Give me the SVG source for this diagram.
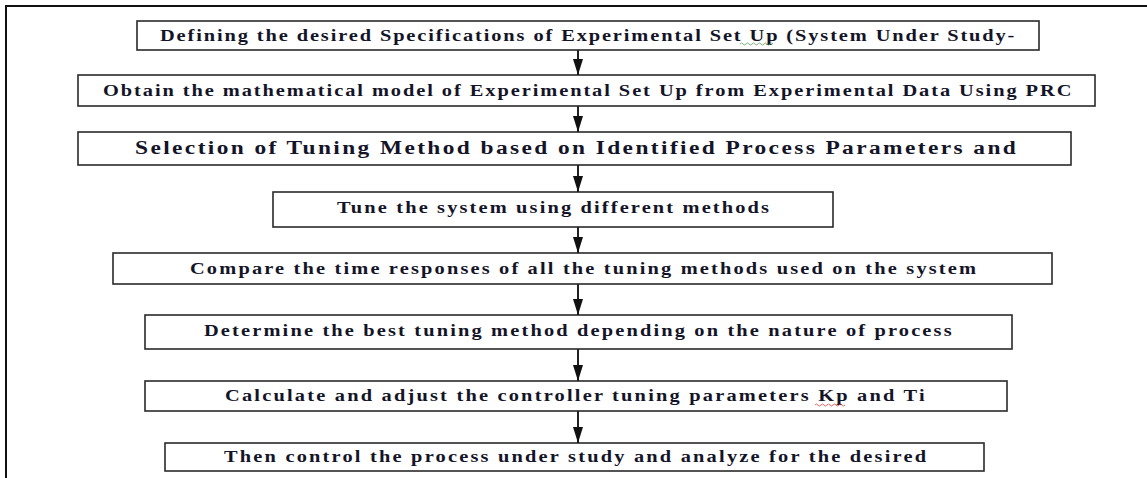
<svg xmlns="http://www.w3.org/2000/svg" width="1147" height="478" viewBox="0 0 1147 478">
<defs>
<style>
.box{fill:#fff;stroke:#2a2a2a;stroke-width:1.6}
.t{font-family:"Liberation Serif","Times New Roman",serif;font-weight:bold;font-size:17px;fill:#141428}
.big{font-size:19.5px}
.shaft{stroke:#222;stroke-width:2;fill:none}
.frame{stroke:#111;stroke-width:2;fill:none}
</style>
<marker id="ah" markerWidth="16" markerHeight="10" refX="16" refY="5" orient="auto" markerUnits="userSpaceOnUse">
<path d="M0,0 L16,5 L0,10 Z" fill="#111"/>
</marker>
</defs>
<rect width="1147" height="478" fill="#fff"/>
<path class="frame" d="M6,478 V6 H1147"/>

<g id="n1"><rect class="box" x="137" y="21" width="902" height="29"/>
<text class="t" transform="translate(160 41) scale(1.2 1)" textLength="712" lengthAdjust="spacing">Defining the desired Specifications of Experimental Set Up (System Under Study-</text>
<path d="M740,44 q1.5,-2 3,0 t3,0 t3,0 t3,0 t3,0 t3,0 t3,0 t3,0 t3,0 t3,0 t3,0" stroke="#5a9a5a" stroke-width="0.8" fill="none"/></g>

<g id="n2"><rect class="box" x="78" y="75" width="1017" height="31"/>
<text class="t" transform="translate(103 96) scale(1.2 1)" textLength="807" lengthAdjust="spacing">Obtain the mathematical model of Experimental Set Up from Experimental Data Using PRC</text></g>

<g id="n3"><rect class="box" x="78" y="132" width="993" height="33"/>
<text class="t big" transform="translate(135 154) scale(1.2 1)" textLength="734" lengthAdjust="spacing">Selection of Tuning Method based on Identified Process Parameters and</text></g>

<g id="n4"><rect class="box" x="273" y="192" width="560" height="35"/>
<text class="t" transform="translate(337 213) scale(1.2 1)" textLength="360" lengthAdjust="spacing">Tune the system using different methods</text></g>

<g id="n5"><rect class="box" x="113" y="253" width="939" height="31"/>
<text class="t" transform="translate(190 274) scale(1.2 1)" textLength="655" lengthAdjust="spacing">Compare the time responses of all the tuning methods used on the system</text></g>

<g id="n6"><rect class="box" x="145" y="315" width="867" height="34"/>
<text class="t" transform="translate(204 336) scale(1.2 1)" textLength="623" lengthAdjust="spacing">Determine the best tuning method depending on the nature of process</text></g>

<g id="n7"><rect class="box" x="145" y="381" width="862" height="30"/>
<text class="t" transform="translate(225 401) scale(1.2 1)" textLength="583" lengthAdjust="spacing">Calculate and adjust the controller tuning parameters Kp and Ti</text>
<path d="M815,405 q1.5,-2 3,0 t3,0 t3,0 t3,0 t3,0 t3,0 t3,0 t3,0 t3,0 t3,0" stroke="#d04040" stroke-width="0.8" fill="none"/></g>

<g id="n8"><rect class="box" x="165" y="443" width="819" height="28"/>
<text class="t" transform="translate(224 462) scale(1.2 1)" textLength="585" lengthAdjust="spacing">Then control the process under study and analyze for the desired</text></g>

<g id="connectors">
<line class="shaft" x1="578" y1="50" x2="578" y2="75" marker-end="url(#ah)"/>
<line class="shaft" x1="578" y1="106" x2="578" y2="132" marker-end="url(#ah)"/>
<line class="shaft" x1="578" y1="165" x2="578" y2="192" marker-end="url(#ah)"/>
<line class="shaft" x1="578" y1="227" x2="578" y2="253" marker-end="url(#ah)"/>
<line class="shaft" x1="578" y1="284" x2="578" y2="315" marker-end="url(#ah)"/>
<line class="shaft" x1="578" y1="349" x2="578" y2="381" marker-end="url(#ah)"/>
<line class="shaft" x1="578" y1="411" x2="578" y2="443" marker-end="url(#ah)"/>
</g>
</svg>
